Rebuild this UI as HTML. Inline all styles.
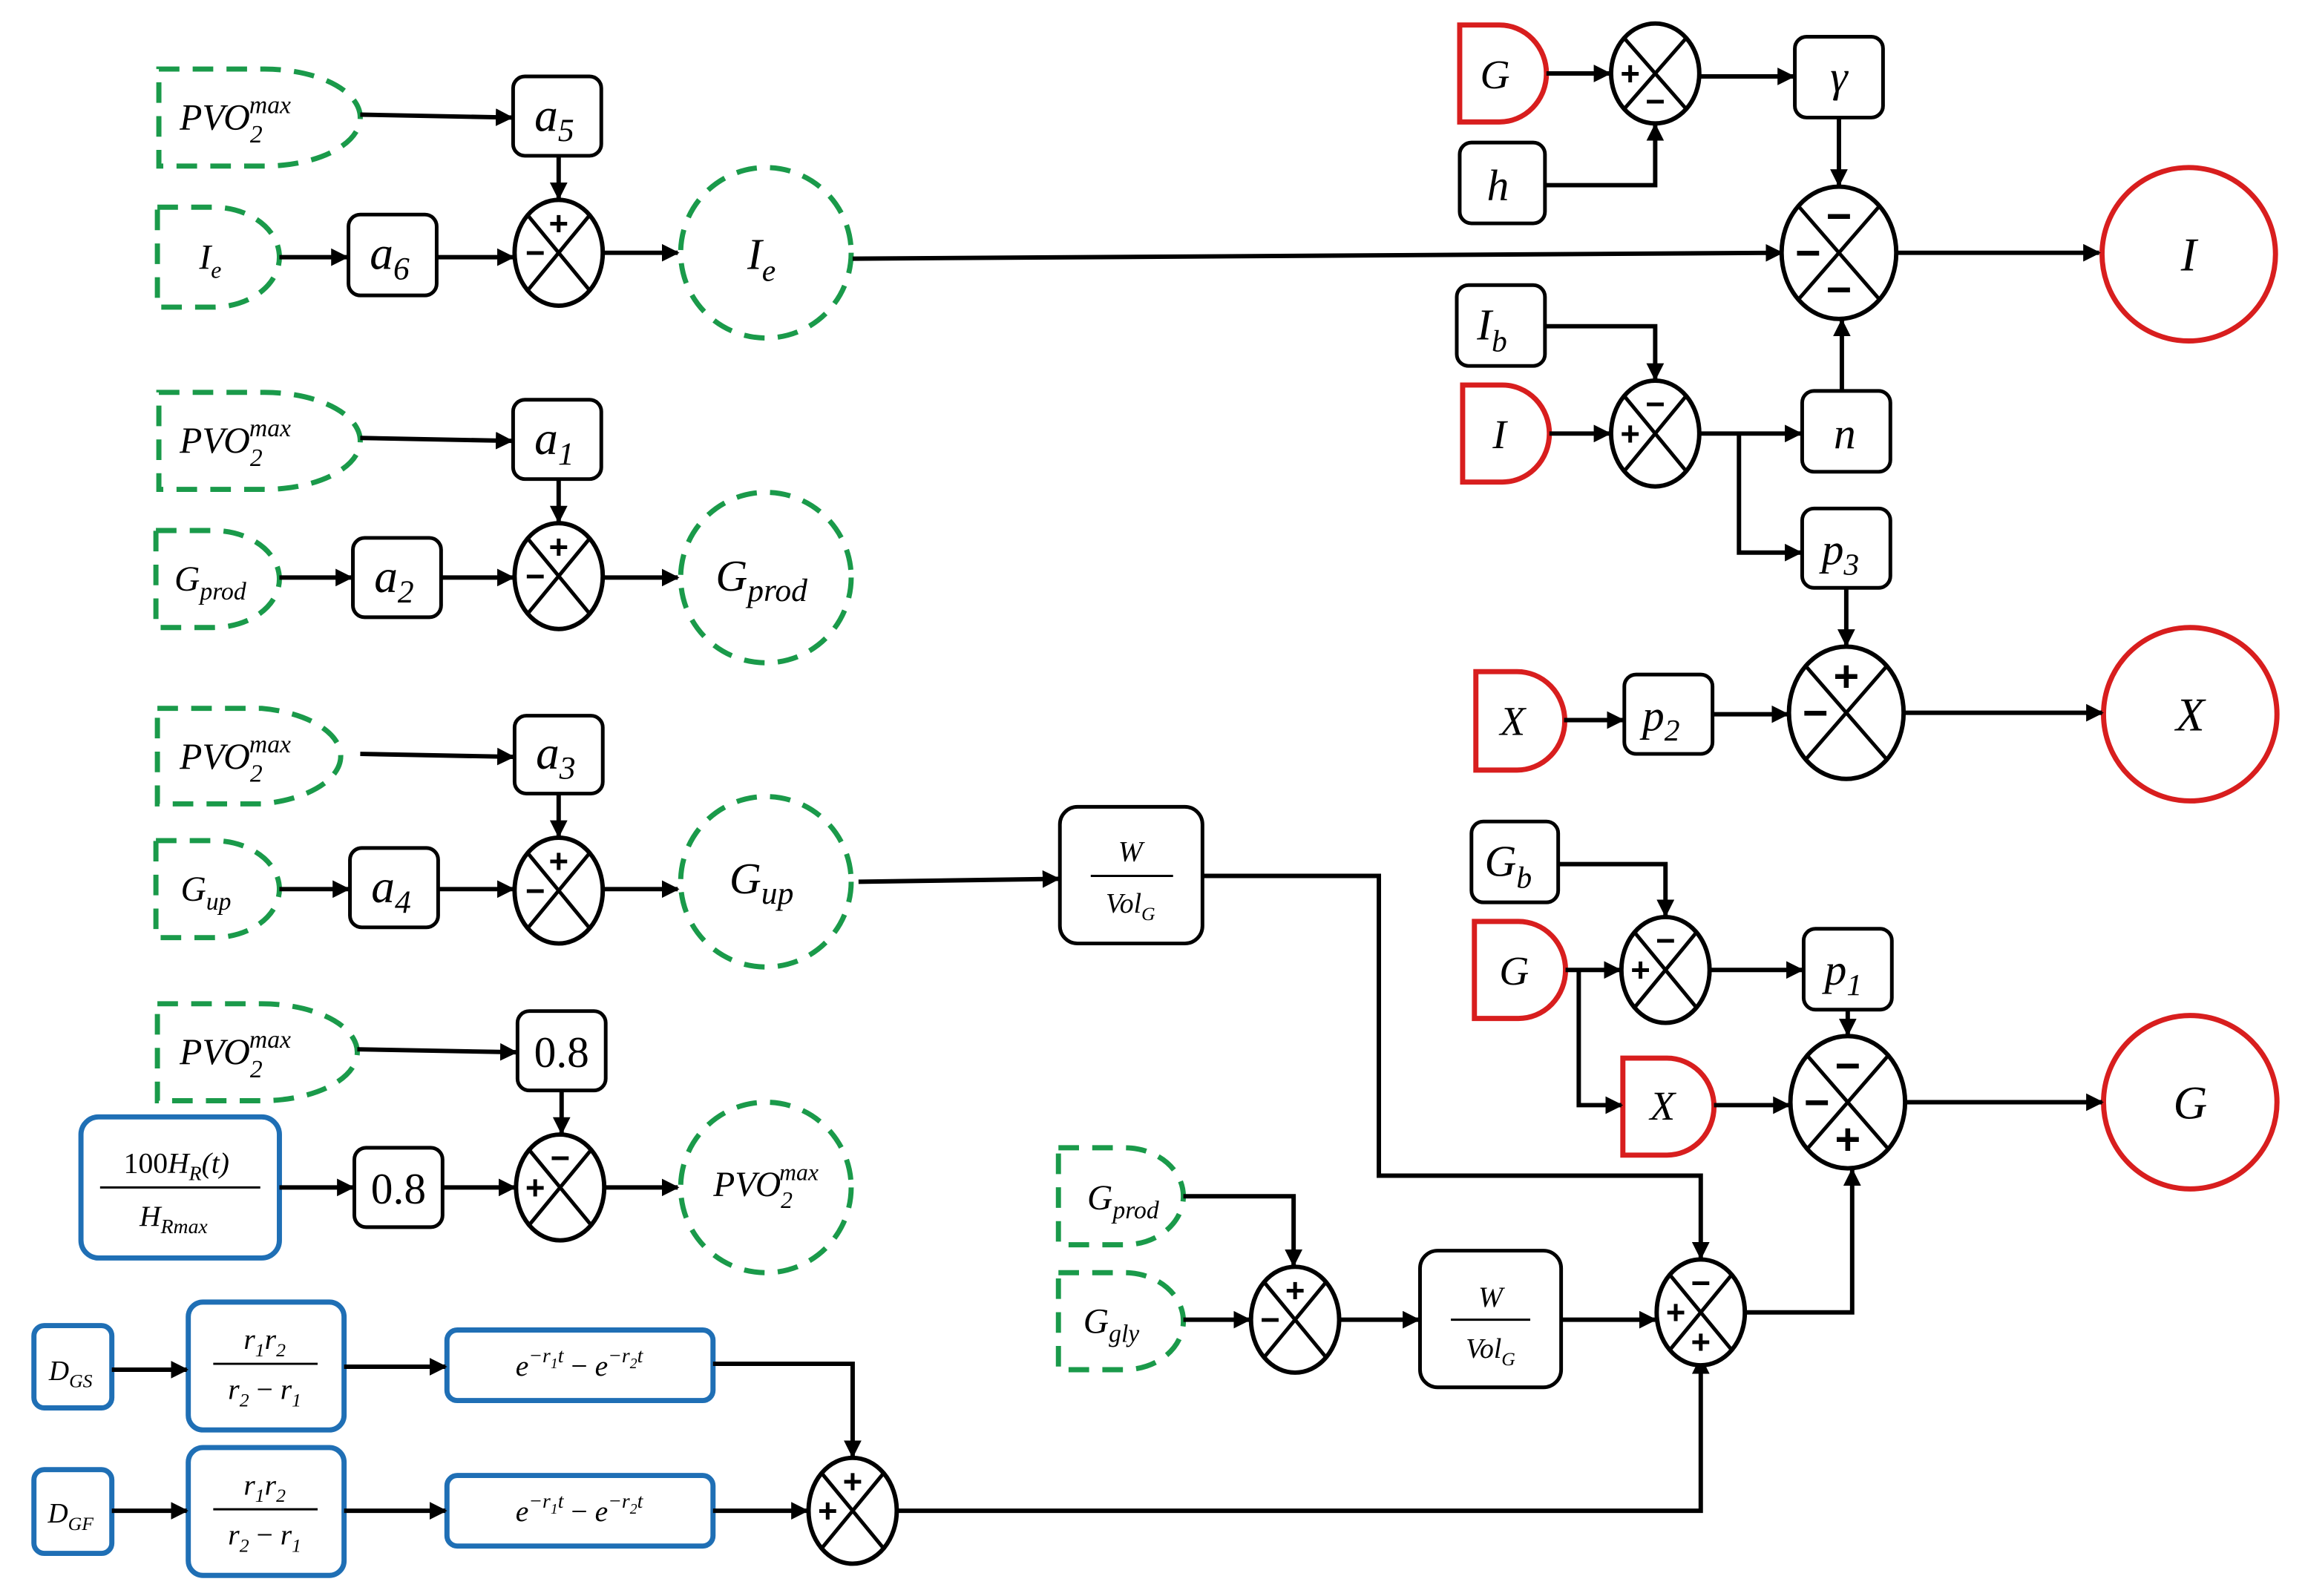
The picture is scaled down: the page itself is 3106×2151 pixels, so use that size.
<!DOCTYPE html>
<html><head><meta charset="utf-8"><style>
html,body{margin:0;padding:0;background:#fff}
svg{display:block}
.m{font-family:"Liberation Serif",serif;font-style:italic;fill:#000}
.s{font-family:"Liberation Sans",sans-serif;font-weight:bold;fill:#000;text-anchor:middle;dominant-baseline:central}
</style></head><body>
<svg width="3106" height="2151" viewBox="0 0 1568 1086" xmlns="http://www.w3.org/2000/svg">
<defs><marker id="a" viewBox="0 0 10 10" refX="9" refY="5" markerWidth="4" markerHeight="4" orient="auto"><path d="M0 0L10 5L0 10z" fill="#000"/></marker></defs>
<g fill="none" stroke="#1a9a4a" stroke-width="3.5" stroke-dasharray="14 9">
<path d="M108 47H180A65 33 0 0 1 180 113H108Z"/>
<path d="M107 141H145A45 34 0 0 1 145 209H107Z"/>
<circle cx="521" cy="172" r="58"/>
<path d="M108 267H180A65 33 0 0 1 180 333H108Z"/>
<path d="M106 361H145A45 33 0 0 1 145 427H106Z"/>
<circle cx="521" cy="393" r="58"/>
<path d="M107 482H178A65 33 0 0 1 178 547H107Z"/>
<path d="M106 572H145A45 33 0 0 1 145 638H106Z"/>
<circle cx="521" cy="600" r="58"/>
<path d="M107 683H178A65 33 0 0 1 178 749H107Z"/>
<circle cx="521" cy="808" r="58"/>
<path d="M720 781H765A40 33 0 0 1 765 847H720Z"/>
<path d="M720 866H765A40 33 0 0 1 765 932H720Z"/>
</g>
<g fill="none" stroke="#d81e1e" stroke-width="3.5">
<path d="M993 17H1020A32 33 0 0 1 1020 83H993Z"/>
<path d="M995 262H1022A32 33 0 0 1 1022 328H995Z"/>
<path d="M1004 457H1032A32 33 0 0 1 1032 524H1004Z"/>
<path d="M1003 627H1033A32 33 0 0 1 1033 693H1003Z"/>
<path d="M1104 720H1134A32 33 0 0 1 1134 786H1104Z"/>
<circle cx="1489" cy="173" r="59"/>
<circle cx="1490" cy="486" r="59"/>
<circle cx="1490" cy="750" r="59"/>
</g>
<g fill="#fff" stroke="#000" stroke-width="2.5">
<rect x="349" y="52" width="60" height="54" rx="8"/>
<rect x="237" y="146" width="60" height="55" rx="8"/>
<rect x="349" y="272" width="60" height="54" rx="8"/>
<rect x="240" y="366" width="60" height="54" rx="8"/>
<rect x="350" y="487" width="60" height="53" rx="8"/>
<rect x="238" y="577" width="60" height="54" rx="8"/>
<rect x="352" y="688" width="60" height="54" rx="8"/>
<rect x="241" y="781" width="60" height="54" rx="8"/>
<rect x="721" y="549" width="97" height="93" rx="12"/>
<rect x="966" y="851" width="96" height="93" rx="12"/>
<rect x="1221" y="25" width="60" height="55" rx="8"/>
<rect x="993" y="97" width="58" height="55" rx="8"/>
<rect x="991" y="194" width="60" height="55" rx="8"/>
<rect x="1226" y="266" width="60" height="55" rx="8"/>
<rect x="1226" y="346" width="60" height="54" rx="8"/>
<rect x="1105" y="459" width="60" height="54" rx="8"/>
<rect x="1001" y="559" width="59" height="55" rx="8"/>
<rect x="1227" y="632" width="60" height="55" rx="8"/>
</g>
<g fill="#fff" stroke="#1f6fb5" stroke-width="3.5">
<rect x="55" y="760" width="135" height="96" rx="12"/>
<rect x="23" y="902" width="53" height="56" rx="7"/>
<rect x="128" y="886" width="106" height="87" rx="10"/>
<rect x="304" y="905" width="181" height="48" rx="7"/>
<rect x="23" y="1000" width="53" height="57" rx="7"/>
<rect x="128" y="985" width="106" height="87" rx="10"/>
<rect x="304" y="1004" width="181" height="48" rx="7"/>
</g>
<g fill="none" stroke="#000" stroke-width="3" marker-end="url(#a)">
<path d="M245 78L348 80"/><path d="M380 106V135"/><path d="M190 175H236"/><path d="M297 175H349"/><path d="M411 172H461"/>
<path d="M580 176L1212 172"/>
<path d="M245 298L348 300"/><path d="M380 326V355"/><path d="M190 393H239"/><path d="M300 393H349"/><path d="M411 393H461"/>
<path d="M245 513L349 515"/><path d="M380 540V569"/><path d="M190 605H237"/><path d="M298 605H349"/><path d="M411 605H461"/>
<path d="M584 600L720 598"/>
<path d="M243 714L351 716"/><path d="M382 742V771"/><path d="M190 808H240"/><path d="M301 808H350"/><path d="M412 808H461"/>
<path d="M76 932H127"/><path d="M234 930H303"/><path d="M485 928H580V991"/>
<path d="M76 1028H127"/><path d="M234 1028H303"/><path d="M485 1028H549"/>
<path d="M611 1028H1157V924"/>
<path d="M818 596H938V800H1157V856"/>
<path d="M805 814H880V861"/><path d="M805 898H850"/><path d="M912 898H965"/><path d="M1062 898H1126"/>
<path d="M1188 893H1260V796"/>
<path d="M1052 50H1095"/><path d="M1051 126H1126V85"/><path d="M1157 52H1220"/><path d="M1251 80V126"/>
<path d="M1290 172H1428"/>
<path d="M1051 222H1126V258"/><path d="M1054 295H1095"/><path d="M1157 295H1225"/><path d="M1253 266V218"/>
<path d="M1183 295V376H1225"/><path d="M1256 400V439"/>
<path d="M1064 490H1104"/><path d="M1165 486H1216"/><path d="M1295 485H1430"/>
<path d="M1060 588H1133V623"/><path d="M1065 660H1102"/><path d="M1164 660H1226"/>
<path d="M1074 660V752H1103"/><path d="M1166 752H1217"/><path d="M1257 687V704"/><path d="M1296 750H1430"/>
</g>
<g fill="#fff" stroke="#000" stroke-width="3">
<ellipse cx="380" cy="172" rx="30" ry="36"/><ellipse cx="380" cy="392" rx="30" ry="36"/><ellipse cx="380" cy="606" rx="30" ry="36"/><ellipse cx="381" cy="808" rx="30" ry="36"/><ellipse cx="580" cy="1028" rx="30" ry="36"/><ellipse cx="881" cy="898" rx="30" ry="36"/><ellipse cx="1157" cy="893" rx="30" ry="36"/><ellipse cx="1126" cy="50" rx="30" ry="34"/><ellipse cx="1251" cy="172" rx="39" ry="45"/><ellipse cx="1126" cy="295" rx="30" ry="36"/><ellipse cx="1256" cy="485" rx="39" ry="45"/><ellipse cx="1133" cy="660" rx="30" ry="36"/><ellipse cx="1257" cy="750" rx="39" ry="45"/>
</g>
<g stroke="#000" stroke-width="2.5">
<path d="M359 146.5L401 197.5M401 146.5L359 197.5"/>
<path d="M359 366.5L401 417.5M401 366.5L359 417.5"/>
<path d="M359 580.5L401 631.5M401 580.5L359 631.5"/>
<path d="M360 782.5L402 833.5M402 782.5L360 833.5"/>
<path d="M559 1002.5L601 1053.5M601 1002.5L559 1053.5"/>
<path d="M860 872.5L902 923.5M902 872.5L860 923.5"/>
<path d="M1136 867.5L1178 918.5M1178 867.5L1136 918.5"/>
<path d="M1105 26L1147 74M1147 26L1105 74"/>
<path d="M1223.4 140.2L1278.6 203.8M1278.6 140.2L1223.4 203.8"/>
<path d="M1105 269.5L1147 320.5M1147 269.5L1105 320.5"/>
<path d="M1228.4 453.2L1283.6 516.8M1283.6 453.2L1228.4 516.8"/>
<path d="M1112 634.5L1154 685.5M1154 634.5L1112 685.5"/>
<path d="M1229.4 718.2L1284.6 781.8M1284.6 718.2L1229.4 781.8"/>
</g>
<g class="s" font-size="23">
<text x="380" y="152">+</text><text x="364" y="172">−</text>
<text x="380" y="372">+</text><text x="364" y="392">−</text>
<text x="380" y="586">+</text><text x="364" y="606">−</text>
<text x="381" y="788">−</text><text x="364" y="808">+</text>
<text x="580" y="1008">+</text><text x="563" y="1028">+</text>
<text x="881" y="878">+</text><text x="864" y="898">−</text>
<text x="1157" y="873">−</text><text x="1140" y="893">+</text><text x="1157" y="913">+</text>
<text x="1109" y="50">+</text><text x="1126" y="69">−</text>
<text x="1126" y="275">−</text><text x="1109" y="295">+</text>
<text x="1133" y="640">−</text><text x="1116" y="660">+</text>
</g>
<g class="s" font-size="30">
<text x="1251" y="147">−</text><text x="1230" y="172">−</text><text x="1251" y="197">−</text>
<text x="1256" y="460">+</text><text x="1235" y="485">−</text>
<text x="1257" y="725">−</text><text x="1236" y="750">−</text><text x="1257" y="775">+</text>
</g>
<g class="m" text-anchor="middle">
<text x="160" y="88" font-size="25">PVO<tspan font-size="17" dy="9">2</tspan><tspan font-size="17" dy="-20" dx="-9">max</tspan></text>
<text x="160" y="308" font-size="25">PVO<tspan font-size="17" dy="9">2</tspan><tspan font-size="17" dy="-20" dx="-9">max</tspan></text>
<text x="160" y="523" font-size="25">PVO<tspan font-size="17" dy="9">2</tspan><tspan font-size="17" dy="-20" dx="-9">max</tspan></text>
<text x="160" y="724" font-size="25">PVO<tspan font-size="17" dy="9">2</tspan><tspan font-size="17" dy="-20" dx="-9">max</tspan></text>
<text x="521" y="814" font-size="24">PVO<tspan font-size="16" dy="8">2</tspan><tspan font-size="16" dy="-19" dx="-9">max</tspan></text>
<text x="143" y="183" font-size="24">I<tspan font-size="16" dy="6">e</tspan></text>
<text x="518" y="183" font-size="30">I<tspan font-size="21" dy="8">e</tspan></text>
<text x="143" y="402" font-size="24">G<tspan font-size="17" dy="6">prod</tspan></text>
<text x="518" y="402" font-size="30">G<tspan font-size="22" dy="7">prod</tspan></text>
<text x="140" y="613" font-size="24">G<tspan font-size="17" dy="6">up</tspan></text>
<text x="518" y="608" font-size="30">G<tspan font-size="22" dy="7">up</tspan></text>
<text x="764" y="823" font-size="24">G<tspan font-size="17" dy="6">prod</tspan></text>
<text x="756" y="907" font-size="24">G<tspan font-size="17" dy="6">gly</tspan></text>
<text x="377" y="89" font-size="32">a<tspan font-size="22" dy="7">5</tspan></text>
<text x="265" y="183" font-size="32">a<tspan font-size="22" dy="7">6</tspan></text>
<text x="377" y="309" font-size="32">a<tspan font-size="22" dy="7">1</tspan></text>
<text x="268" y="403" font-size="32">a<tspan font-size="22" dy="7">2</tspan></text>
<text x="378" y="523" font-size="32">a<tspan font-size="22" dy="7">3</tspan></text>
<text x="266" y="614" font-size="32">a<tspan font-size="22" dy="7">4</tspan></text>
<text x="382" y="726" font-size="30" font-style="normal">0.8</text>
<text x="271" y="819" font-size="30" font-style="normal">0.8</text>
<text x="769" y="586" font-size="20">W</text><line x1="742" y1="596" x2="798" y2="596" stroke="#000" stroke-width="1.5"/><text x="769" y="621" font-size="19">Vol<tspan font-size="13" dy="5">G</tspan></text>
<text x="1014" y="889" font-size="20">W</text><line x1="987" y1="898" x2="1041" y2="898" stroke="#000" stroke-width="1.5"/><text x="1014" y="924" font-size="19">Vol<tspan font-size="13" dy="5">G</tspan></text>
<text x="120" y="798" font-size="20" font-style="normal">100<tspan font-style="italic">H<tspan font-size="14" dy="5">R</tspan><tspan dy="-5">(t)</tspan></tspan></text><line x1="68" y1="808" x2="177" y2="808" stroke="#000" stroke-width="1.5"/><text x="118" y="834" font-size="20">H<tspan font-size="14" dy="5">Rmax</tspan></text>
<text x="48" y="939" font-size="19">D<tspan font-size="13" dy="5">GS</tspan></text>
<text x="48" y="1036" font-size="19">D<tspan font-size="13" dy="5">GF</tspan></text>
<text x="180" y="918" font-size="20">r<tspan font-size="13" dy="5">1</tspan><tspan dy="-5">r</tspan><tspan font-size="13" dy="5">2</tspan></text><line x1="145" y1="928" x2="216" y2="928" stroke="#000" stroke-width="1.5"/><text x="180" y="952" font-size="20">r<tspan font-size="13" dy="5">2</tspan><tspan dy="-5" font-style="normal"> − </tspan>r<tspan font-size="13" dy="5">1</tspan></text>
<text x="180" y="1017" font-size="20">r<tspan font-size="13" dy="5">1</tspan><tspan dy="-5">r</tspan><tspan font-size="13" dy="5">2</tspan></text><line x1="145" y1="1027" x2="216" y2="1027" stroke="#000" stroke-width="1.5"/><text x="180" y="1051" font-size="20">r<tspan font-size="13" dy="5">2</tspan><tspan dy="-5" font-style="normal"> − </tspan>r<tspan font-size="13" dy="5">1</tspan></text>
<text x="394" y="936" font-size="20">e<tspan font-size="14" dy="-9">−r</tspan><tspan font-size="10" dy="4">1</tspan><tspan font-size="14" dy="-4">t</tspan><tspan dy="9" font-style="normal"> − </tspan>e<tspan font-size="14" dy="-9">−r</tspan><tspan font-size="10" dy="4">2</tspan><tspan font-size="14" dy="-4">t</tspan></text>
<text x="394" y="1035" font-size="20">e<tspan font-size="14" dy="-9">−r</tspan><tspan font-size="10" dy="4">1</tspan><tspan font-size="14" dy="-4">t</tspan><tspan dy="9" font-style="normal"> − </tspan>e<tspan font-size="14" dy="-9">−r</tspan><tspan font-size="10" dy="4">2</tspan><tspan font-size="14" dy="-4">t</tspan></text>
<text x="1017" y="60" font-size="28">G</text>
<text x="1019" y="136" font-size="30">h</text>
<text x="1251" y="62" font-size="30">γ</text>
<text x="1015" y="231" font-size="30">I<tspan font-size="21" dy="8">b</tspan></text>
<text x="1020" y="305" font-size="28">I</text>
<text x="1255" y="305" font-size="30">n</text>
<text x="1252" y="384" font-size="30">p<tspan font-size="21" dy="7">3</tspan></text>
<text x="1029" y="500" font-size="28">X</text>
<text x="1130" y="497" font-size="30">p<tspan font-size="21" dy="7">2</tspan></text>
<text x="1026" y="596" font-size="30">G<tspan font-size="21" dy="8">b</tspan></text>
<text x="1030" y="670" font-size="28">G</text>
<text x="1254" y="670" font-size="30">p<tspan font-size="21" dy="7">1</tspan></text>
<text x="1131" y="762" font-size="28">X</text>
<text x="1489" y="184" font-size="32">I</text>
<text x="1490" y="497" font-size="32">X</text>
<text x="1490" y="761" font-size="32">G</text>
</g>
</svg>
</body></html>
